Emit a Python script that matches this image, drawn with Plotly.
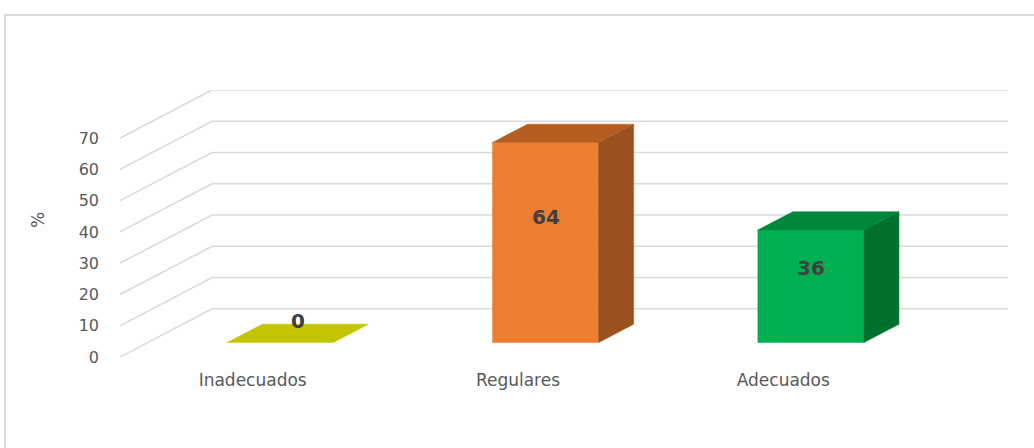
import plotly.graph_objects as go

# ---- data ----
categories = ["Inadecuados", "Regulares", "Adecuados"]
values = [0, 64, 36]
y_ticks = [0, 10, 20, 30, 40, 50, 60, 70]
y_title = "%"

# ---- styling / projection parameters ----
front_colors = ["#d2d200", "#ed7d31", "#00b050"]
top_colors = ["#c4c400", "#b65e22", "#00873c"]
side_colors = ["#a6a600", "#9a511e", "#00702f"]
grid_color = "#d9d9d9"
text_color = "#595959"

DXc = 0.347   # depth shift in x (category units) from front floor to back wall
DYv = 15.4    # depth shift in y (value units) from front floor to back wall
z0, z1 = 0.30, 0.68   # bar front / back depth fraction
W = 0.40      # bar width in category units
x_lo, x_hi = -0.5, 2.5
y_max_wall = y_ticks[-1]


def proj(x, v, z):
    return x + z * DXc, v + z * DYv


def poly(pts, color):
    return go.Scatter(x=[p[0] for p in pts] + [pts[0][0]],
                      y=[p[1] for p in pts] + [pts[0][1]],
                      fill="toself", fillcolor=color, mode="lines",
                      line=dict(width=0.5, color=color),
                      hoverinfo="skip", showlegend=False)


fig = go.Figure()

# gridlines: diagonal side wall + back wall
for t in y_ticks:
    p0 = proj(x_lo, t, 0)
    p1 = proj(x_lo, t, 1)
    p2 = proj(x_hi, t, 1)
    fig.add_trace(go.Scatter(x=[p0[0], p1[0], p2[0]], y=[p0[1], p1[1], p2[1]],
                             mode="lines", line=dict(color=grid_color, width=1.5),
                             hoverinfo="skip", showlegend=False))

# bars
for i, (cat, v) in enumerate(zip(categories, values)):
    xl, xr = i - W / 2, i + W / 2
    if v > 0:
        # front face
        fig.add_trace(poly([proj(xl, 0, z0), proj(xr, 0, z0),
                            proj(xr, v, z0), proj(xl, v, z0)], front_colors[i]))
        # side face
        fig.add_trace(poly([proj(xr, 0, z0), proj(xr, 0, z1),
                            proj(xr, v, z1), proj(xr, v, z0)], side_colors[i]))
    # top face
    fig.add_trace(poly([proj(xl, v, z0), proj(xr, v, z0),
                        proj(xr, v, z1), proj(xl, v, z1)], top_colors[i]))
    # data label
    if v == 0:
        lx, ly = proj(i, v, (z0 + z1) / 2)
        ly += 4
    else:
        lx, ly = proj(i, 0.59 * v, z0)
        ly += 2.5
    fig.add_annotation(x=lx, y=ly, text=str(v), showarrow=False,
                       font=dict(family="DejaVu Sans", size=20, color="#404040", weight="bold"))

# axis title
fig.add_annotation(xref="paper", yref="paper", x=(38 - 120) / 888, y=(357 - 220) / 267,
                   xanchor="center", yanchor="middle",
                   text=y_title, textangle=-90, showarrow=False,
                   font=dict(family="DejaVu Sans", size=17, color=text_color))

fig.update_layout(
    width=1034, height=448,
    margin=dict(l=120, r=26, t=90, b=91),
    paper_bgcolor="white", plot_bgcolor="rgba(0,0,0,0)",
    xaxis=dict(range=[x_lo, x_hi + DXc], tickvals=list(range(len(categories))),
               ticktext=categories, showgrid=False, zeroline=False, showline=False,
               ticks="", ticklabelstandoff=11,
               tickfont=dict(family="DejaVu Sans", size=17, color=text_color)),
    yaxis=dict(range=[0, y_max_wall + DYv], tickvals=y_ticks, showgrid=False,
               zeroline=False, showline=False, ticks="", ticklabelstandoff=20,
               tickfont=dict(family="DejaVu Sans", size=16, color=text_color)),
    shapes=[dict(type="rect", xref="paper", yref="paper",
                 x0=(5 - 120) / 888, x1=1.2, y0=-0.5, y1=(357 - 15) / 267,
                 line=dict(color="#d9d9d9", width=2), fillcolor="rgba(0,0,0,0)",
                 layer="below")],
)

fig.write_html("out.html", config={"displayModeBar": False},
               post_script="document.body.style.margin='0';document.body.style.overflow='hidden';")
